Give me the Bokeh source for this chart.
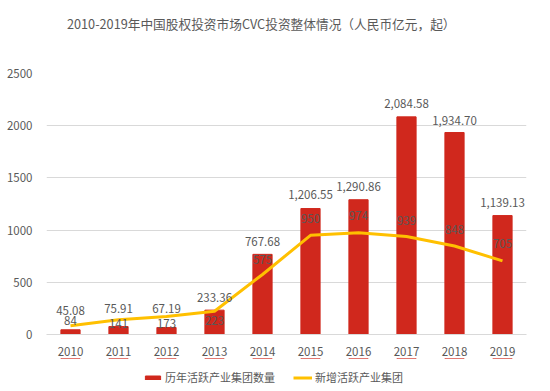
from bokeh.plotting import figure
from bokeh.models import ColumnDataSource, Legend, LegendItem, Range1d, FactorRange, SingleIntervalTicker, Div
from bokeh.layouts import column
from bokeh.core.properties import value
from bokeh.embed import file_html
from bokeh.resources import INLINE

years = ["2010", "2011", "2012", "2013", "2014", "2015", "2016", "2017", "2018", "2019"]
invest_amount = [45.08, 75.91, 67.19, 233.36, 767.68, 1206.55, 1290.86, 2084.58, 1934.70, 1139.13]
new_groups = [84, 141, 173, 223, 575, 950, 974, 939, 848, 705]
title_text = "2010-2019年中国股权投资市场CVC投资整体情况（人民币亿元，起）"
series_names = ["历年活跃产业集团数量", "新增活跃产业集团"]

# label placement (style, screen px)
bar_label_dy = [-19, -18, -19, -13, -13, -14, -13, -13, -12, -13]
line_label_dy = [-5, 4, 7, 9, -15, -17, -17, -16, -16, -17]

FONT = "Noto Sans CJK SC"
GREY = "#595959"
RED = "#D0281D"
GOLD = "#FFC000"
W = 545

src = ColumnDataSource(dict(
    x=years,
    bar=invest_amount,
    line=new_groups,
    bar_txt=["{:,.2f}".format(v) for v in invest_amount],
    line_txt=[str(v) for v in new_groups],
    bdy=bar_label_dy,
    ldy=line_label_dy,
))

title = Div(text=title_text, width=W, height=40,
            styles={"font-family": FONT, "font-size": "12.7px", "color": GREY,
                    "text-align": "left", "line-height": "16px", "padding-top": "16px",
                    "padding-left": "67px", "box-sizing": "border-box", "margin": "0",
                    "white-space": "nowrap"})

p = figure(width=W, height=318, x_range=FactorRange(*years, range_padding=0),
           y_range=Range1d(0, 2500), output_backend="svg", toolbar_location=None,
           min_border_left=46, min_border_right=19, min_border_top=33, min_border_bottom=24)

vb = p.vbar(x="x", top="bar", width=0.4, color=RED, source=src)
ln = p.line(x="x", y="line", line_color=GOLD, line_width=3, source=src)

p.text(x="x", y="bar", text="bar_txt", y_offset="bdy", text_align="center", text_baseline="middle",
       text_font=value(FONT), text_font_size="11.5px", text_color=GREY, source=src)
p.text(x="x", y="line", text="line_txt", y_offset="ldy", text_align="center", text_baseline="middle",
       text_font=value(FONT), text_font_size="11.5px", text_color=GREY, source=src)

p.outline_line_color = None
p.xgrid.grid_line_color = None
p.ygrid.grid_line_color = "#D9D9D9"
p.ygrid.grid_line_width = 1
p.yaxis.ticker = SingleIntervalTicker(interval=500)
p.yaxis.axis_line_color = None
p.yaxis.major_tick_line_color = None
p.yaxis.minor_tick_line_color = None
p.yaxis.major_label_text_font = FONT
p.yaxis.major_label_text_font_size = "11.5px"
p.yaxis.major_label_text_color = GREY
p.yaxis.major_label_standoff = 8
p.xaxis.axis_line_color = "#D9D9D9"
p.xaxis.major_tick_line_color = None
p.xaxis.minor_tick_line_color = None
p.xaxis.major_label_text_font = FONT
p.xaxis.major_label_text_font_size = "11.5px"
p.xaxis.major_label_text_color = GREY
p.xaxis.major_label_standoff = 6

# legend strip: same series drawn out of view, only their legend swatches show
lg = figure(width=W, height=30, x_range=FactorRange(*years, range_padding=0), y_range=Range1d(-2, -1),
            x_axis_type=None, y_axis_type=None,
            output_backend="svg", toolbar_location=None,
            min_border_left=0, min_border_right=0, min_border_top=0, min_border_bottom=0)
lg.grid.visible = False
lg.outline_line_color = None
lvb = lg.vbar(x="x", top="bar", width=0.4, color=RED, source=src)
lln = lg.line(x="x", y="line", line_color=GOLD, line_width=3, source=src)
legend = Legend(items=[LegendItem(label=series_names[0], renderers=[lvb]),
                       LegendItem(label=series_names[1], renderers=[lln])],
                orientation="horizontal", location=(97, 3),
                label_text_font=FONT, label_text_font_size="11px", label_text_color=GREY,
                glyph_width=19, glyph_height=5, spacing=18, border_line_color=None,
                background_fill_alpha=0, label_standoff=3, padding=2, margin=0,
                label_height=13)
lg.add_layout(legend, "center")

layout = column(title, p, lg, spacing=0)
open("out.html", "w").write(file_html(layout, INLINE))
